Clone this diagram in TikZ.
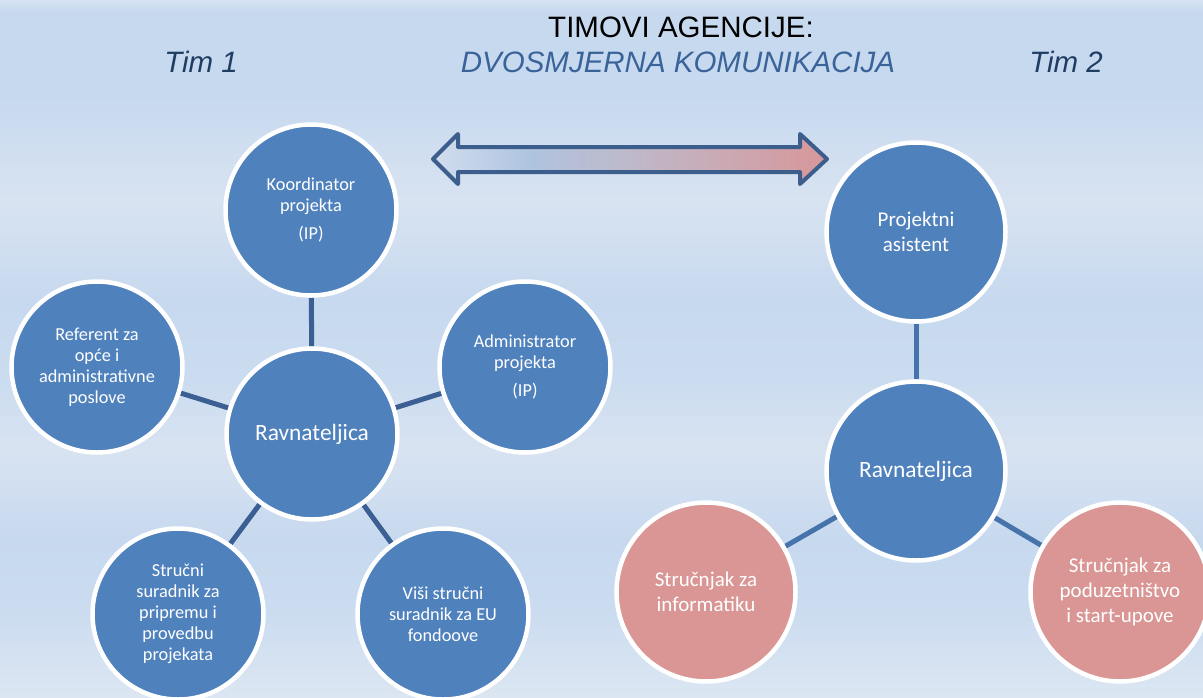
\documentclass[tikz,border=0pt]{standalone}
\usepackage{fontspec}
\setmainfont{Liberation Sans}
\newfontfamily\calibfont{Carlito}
\usetikzlibrary{backgrounds}
\definecolor{nodeblue}{HTML}{4F81BD}
\definecolor{nodepink}{HTML}{D99694}
\definecolor{linkL}{HTML}{3B5F92}
\definecolor{linkR}{HTML}{4674AA}
\definecolor{arrowline}{HTML}{3B5E8C}
\definecolor{subtitle}{HTML}{3A6399}
\definecolor{timcol}{HTML}{1F3D63}
\definecolor{a0}{HTML}{D2DEEF}
\definecolor{a1}{HTML}{AFC4DF}
\definecolor{a2}{HTML}{BEB9CA}
\definecolor{a3}{HTML}{D8979A}
\definecolor{b0}{HTML}{D5E2F2}
\definecolor{b1}{HTML}{C7D9EF}
\definecolor{b2}{HTML}{D8E3F1}
\definecolor{b3}{HTML}{CBDCF0}
\definecolor{b4}{HTML}{DCE6F2}
\pgfdeclarehorizontalshading{arrowsh}{100bp}{color(0bp)=(a0); color(25bp)=(a0); color(37bp)=(a1); color(50bp)=(a2); color(75bp)=(a3); color(100bp)=(a3)}
\tikzset{
  bub/.style={circle, draw=white, line width=4.5pt, fill=nodeblue, text=white,
    align=center, minimum size=171pt, inner sep=0pt,
    font=\calibfont\fontsize{18.3}{21}\selectfont},
  bubhead/.style={bub, font=\calibfont\fontsize{23.4}{28}\selectfont},
  bubR/.style={bub, minimum size=179pt, font=\calibfont\fontsize{21}{25}\selectfont},
  bubRhead/.style={bubR, font=\calibfont\fontsize{23.4}{28}\selectfont},
  bubpink/.style={bubR, fill=nodepink},
  linkleft/.style={draw=linkL, line width=5pt},
  linkright/.style={draw=linkR, line width=5pt},
  titletext/.style={anchor=base, inner sep=0pt, font=\fontsize{29.5}{34}\selectfont},
}
\begin{document}
\begin{tikzpicture}[x=1pt,y=-1pt]
\begin{pgfonlayer}{background}
  \shade[top color=b0, bottom color=b1] (0,0) rectangle (1203,12.5);
  \shade[top color=b1, bottom color=b1] (0,12) rectangle (1203,95.5);
  \shade[top color=b1, bottom color=b2] (0,95) rectangle (1203,200.5);
  \shade[top color=b2, bottom color=b1] (0,200) rectangle (1203,300.5);
  \shade[top color=b1, bottom color=b3] (0,300) rectangle (1203,380.5);
  \shade[top color=b3, bottom color=b2] (0,380) rectangle (1203,450.5);
  \shade[top color=b2, bottom color=b1] (0,450) rectangle (1203,540.5);
  \shade[top color=b1, bottom color=b3] (0,540) rectangle (1203,610.5);
  \shade[top color=b3, bottom color=b4] (0,610) rectangle (1203,697);
\end{pgfonlayer}
\useasboundingbox (0,0) rectangle (1203,697);

% titles
\node[titletext] (title1) at (681,37) {TIMOVI AGENCIJE:};
\node[titletext, text=subtitle] (title2) at (678,72) {\itshape DVOSMJERNA KOMUNIKACIJA};
\node[titletext, text=timcol] (tim1) at (201,72) {\itshape Tim 1};
\node[titletext, text=timcol] (tim2) at (1066,72) {\itshape Tim 2};

% double arrow
\shade[shading=arrowsh] (433,159) -- (458,134) -- (458,147) -- (800,147) -- (800,134)
  -- (827,159) -- (800,184) -- (800,172) -- (458,172) -- (458,184) -- cycle;
\draw[arrowline, line width=4pt, line join=round] (433,159) -- (458,134) -- (458,147)
  -- (800,147) -- (800,134) -- (827,159) -- (800,184) -- (800,172) -- (458,172)
  -- (458,184) -- cycle;

% team 1
\node[bub] (koord) at (311,210) {Koordinator\\projekta\\[7pt](IP)};
\node[bub] (ref) at (97,367) {Referent za\\opće i\\administrativne\\poslove};
\node[bub] (adm) at (525,367) {Administrator\\projekta\\[7pt](IP)};
\node[bubhead] (ravL) at (312,434) {Ravnateljica};
\node[bub] (str) at (178,614) {Stručni\\suradnik za\\pripremu i\\provedbu\\projekata};
\node[bub] (visi) at (443,614) {Viši stručni\\suradnik za EU\\fondoove};

% team 2
\node[bubR] (proj) at (916,232) {Projektni\\asistent};
\node[bubRhead] (ravR) at (916,471) {Ravnateljica};
\node[bubpink] (inf) at (706,592) {Stručnjak za\\informatiku};
\node[bubpink] (pod) at (1120,592) {Stručnjak za\\poduzetništvo\\i start-upove};

\begin{pgfonlayer}{background}
  \draw[linkleft] (ravL) -- (koord);
  \draw[linkleft] (ravL) -- (ref);
  \draw[linkleft] (ravL) -- (adm);
  \draw[linkleft] (ravL) -- (str);
  \draw[linkleft] (ravL) -- (visi);
  \draw[linkright] (ravR) -- (proj);
  \draw[linkright] (ravR) -- (inf);
  \draw[linkright] (ravR) -- (pod);
\end{pgfonlayer}
\end{tikzpicture}
\end{document}
